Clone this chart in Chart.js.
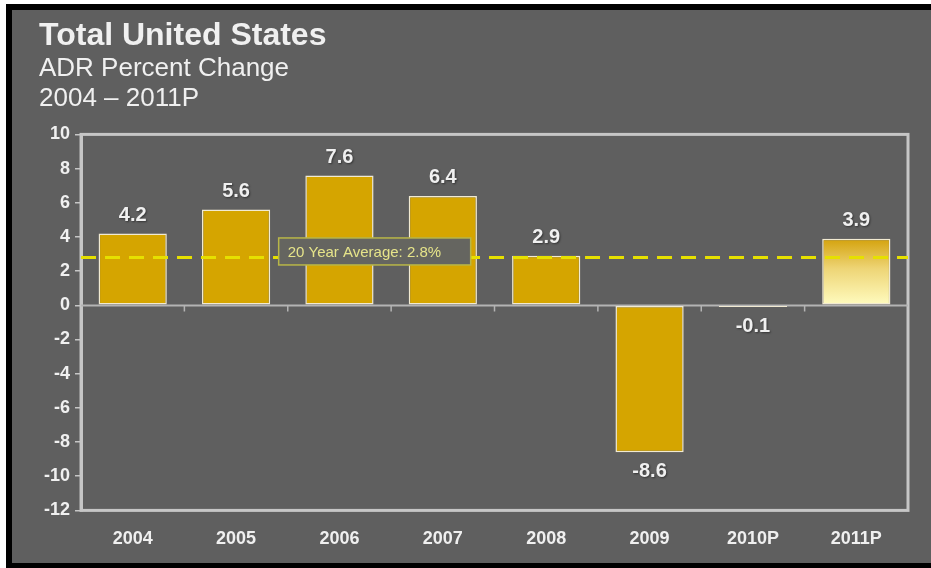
<!DOCTYPE html>
<html>
<head>
<meta charset="utf-8">
<title>Total United States – ADR Percent Change</title>
<script src="https://cdn.jsdelivr.net/npm/chart.js@4.4.1/dist/chart.umd.min.js"></script>
<style>
  html, body { margin: 0; padding: 0; background: #ffffff; }
  #wrap { width: 931px; height: 568px; }
</style>
</head>
<body>
<div id="wrap"><canvas id="adr" width="931" height="568"></canvas></div>
<script>
// Year-over-year ADR change, percent
const categories = ['2004', '2005', '2006', '2007', '2008', '2009', '2010P', '2011P'];
const adrChange = [4.2, 5.6, 7.6, 6.4, 2.9, -8.6, -0.1, 3.9];
const yMin = -12;
const yMax = 10;
const yStep = 2;
const averageValue = 2.8;
const averageLabel = '20 Year Average: 2.8%';
const titleText = 'Total United States';
const subtitleLines = ['ADR Percent Change', '2004 \u2013 2011P'];

const FONT = '"Liberation Sans", Arial, "DejaVu Sans", sans-serif';
const GOLD = '#d5a500';
const FRAME = '#c6c6c6';
const TEXT = '#f0f0f0';

// Dark panel with a black frame behind everything
const panelBackground = {
  id: 'panelBackground',
  beforeDraw(chart) {
    const { ctx, width, height } = chart;
    ctx.save();
    ctx.fillStyle = '#ffffff';
    ctx.fillRect(0, 0, width, height);
    ctx.fillStyle = '#000000';
    ctx.fillRect(6, 4, width - 6, height - 4);
    ctx.fillStyle = '#5f5f5f';
    ctx.fillRect(12, 10, width - 12, height - 15);
    ctx.restore();
  }
};

// Plot frame, zero line with category ticks, average line and value labels
const overlays = {
  id: 'overlays',
  beforeDatasetsDraw(chart) {
    const { ctx, chartArea: a, scales: { x, y } } = chart;
    ctx.save();
    ctx.strokeStyle = FRAME;
    ctx.lineWidth = 3;
    ctx.strokeRect(a.left, a.top, a.right - a.left, a.bottom - a.top);
    const zy = Math.round(y.getPixelForValue(0)) + 0.5;
    ctx.strokeStyle = '#b4b4b4';
    ctx.lineWidth = 2;
    ctx.beginPath();
    ctx.moveTo(a.left, zy);
    ctx.lineTo(a.right, zy);
    ctx.stroke();
    ctx.lineWidth = 1.5;
    ctx.beginPath();
    for (let i = 0; i < categories.length - 1; i++) {
      const bx = (x.getPixelForValue(i) + x.getPixelForValue(i + 1)) / 2;
      ctx.moveTo(bx, zy);
      ctx.lineTo(bx, zy + 6);
    }
    ctx.stroke();
    ctx.restore();
  },
  afterDatasetsDraw(chart) {
    const { ctx, chartArea: a, scales: { y } } = chart;
    ctx.save();
    // average line
    const ay = y.getPixelForValue(averageValue);
    ctx.strokeStyle = '#e6e000';
    ctx.lineWidth = 3;
    ctx.setLineDash([15, 9]);
    ctx.beginPath();
    ctx.moveTo(a.left, ay);
    ctx.lineTo(a.right, ay);
    ctx.stroke();
    ctx.setLineDash([]);

    // average label box
    const w = a.right - a.left;
    const bx = a.left + w * 0.239;
    const bw = 192, bh = 27;
    const by = ay - 6 - bh / 2;
    ctx.fillStyle = '#656560';
    ctx.fillRect(bx, by, bw, bh);
    ctx.strokeStyle = '#b8b648';
    ctx.lineWidth = 1.5;
    ctx.strokeRect(bx, by, bw, bh);
    ctx.fillStyle = '#e6e48a';
    ctx.font = '15px ' + FONT;
    ctx.textAlign = 'left';
    ctx.textBaseline = 'middle';
    ctx.fillText(averageLabel, bx + 9, by + bh / 2 + 1);

    // value labels
    const meta = chart.getDatasetMeta(0);
    ctx.font = 'bold 20px ' + FONT;
    ctx.fillStyle = TEXT;
    ctx.textAlign = 'center';
    ctx.shadowColor = 'rgba(0,0,0,0.45)';
    ctx.shadowBlur = 2;
    ctx.shadowOffsetX = 1;
    ctx.shadowOffsetY = 1;
    meta.data.forEach((bar, i) => {
      const v = adrChange[i];
      const label = v.toFixed(1);
      if (v >= 0) {
        ctx.textBaseline = 'bottom';
        ctx.fillText(label, bar.x, bar.y - 8);
      } else {
        ctx.textBaseline = 'top';
        ctx.fillText(label, bar.x, bar.y + 9);
      }
    });
    ctx.restore();
  }
};

function barFill(context) {
  const chart = context.chart;
  const a = chart.chartArea;
  if (context.dataIndex === categories.length - 1 && a) {
    const y = chart.scales.y;
    const top = y.getPixelForValue(adrChange[context.dataIndex]);
    const bottom = y.getPixelForValue(0);
    const g = chart.ctx.createLinearGradient(0, top, 0, bottom);
    g.addColorStop(0, '#d4a20c');
    g.addColorStop(0.45, '#eed576');
    g.addColorStop(1, '#fffcc0');
    return g;
  }
  if (adrChange[context.dataIndex] > -0.5 && adrChange[context.dataIndex] < 0) return '#e4e4e4';
  return GOLD;
}

new Chart(document.getElementById('adr'), {
  type: 'bar',
  data: {
    labels: categories,
    datasets: [{
      data: adrChange,
      backgroundColor: barFill,
      borderColor: '#f1ead2',
      borderWidth: 1.5,
      borderSkipped: false,
      barPercentage: 0.66,
      categoryPercentage: 1.0
    }]
  },
  options: {
    responsive: false,
    animation: false,
    events: [],
    layout: { padding: { left: 39, right: 23, top: 10, bottom: 0 } },
    plugins: {
      legend: { display: false },
      tooltip: { enabled: false },
      title: {
        display: true,
        text: titleText,
        align: 'start',
        color: TEXT,
        font: { family: FONT, size: 32, weight: 'bold', lineHeight: 1.05 },
        padding: { top: 9, bottom: 0 }
      },
      subtitle: {
        display: true,
        text: subtitleLines,
        align: 'start',
        color: TEXT,
        font: { family: FONT, size: 26, weight: 'normal', lineHeight: 1.15 },
        padding: { top: 1, bottom: 21 }
      }
    },
    scales: {
      x: {
        grid: { display: false, drawTicks: false },
        border: { display: false },
        ticks: {
          color: TEXT,
          font: { family: FONT, size: 18, weight: 'bold' },
          padding: 18
        }
      },
      y: {
        min: yMin,
        max: yMax,
        ticks: {
          stepSize: yStep,
          color: TEXT,
          font: { family: FONT, size: 18, weight: 'bold' },
          padding: 5
        },
        grid: {
          drawOnChartArea: false,
          drawTicks: true,
          tickLength: 6,
          color: FRAME,
          lineWidth: 1.5
        },
        border: { display: true, color: FRAME, width: 3 }
      }
    }
  },
  plugins: [panelBackground, overlays]
});
</script>
</body>
</html>
